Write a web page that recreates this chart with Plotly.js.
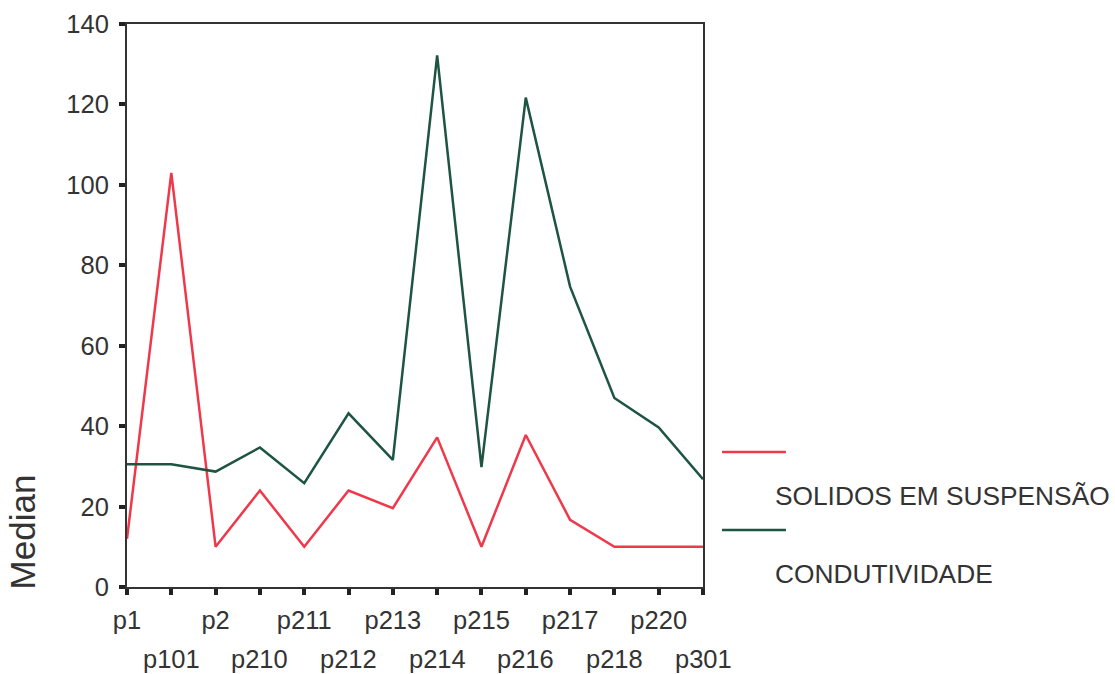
<!DOCTYPE html>
<html>
<head>
<meta charset="utf-8">
<script src="https://cdn.plot.ly/plotly-3.0.1.min.js"></script>
<style>html,body{margin:0;padding:0;background:#fff}#chart{width:1115px;height:674px}</style>
</head>
<body>
<div id="chart"></div>
<script>
const categories = ["p1","p101","p2","p210","p211","p212","p213","p214","p215","p216","p217","p218","p220","p301"];
const solidosSuspensao = [12, 103, 10, 24, 10, 24, 19.6, 37.2, 10, 37.8, 16.7, 10, 10, 10];
const condutividade = [30.5, 30.5, 28.7, 34.7, 25.8, 43.2, 31.6, 132.2, 29.8, 121.7, 74.7, 47, 39.7, 26.8];
const seriesNames = ["SOLIDOS EM SUSPENSÃO", "CONDUTIVIDADE"];
const seriesColors = ["#f0384b", "#1e5443"];
const yTicks = [0, 20, 40, 60, 80, 100, 120, 140];
const yTitle = "Median";

const font = "Liberation Sans, Arial, sans-serif";
const txtColor = "#333333";
const fs = 25.5;

const traces = [solidosSuspensao, condutividade].map((vals, i) => ({
  x: categories, y: vals, type: "scatter", mode: "lines",
  name: seriesNames[i], line: {color: seriesColors[i], width: 2.5}, showlegend: false
}));

const annotations = [];
// second row of staggered category labels
categories.forEach((c, i) => {
  if (i % 2 === 1) annotations.push({
    x: c, xref: "x", y: 0, yref: "paper", yshift: -72, text: c, showarrow: false,
    yanchor: "middle", xanchor: "center", font: {family: font, size: fs, color: txtColor}
  });
});
// y-axis title
annotations.push({
  x: 0, xref: "paper", xshift: -105, y: 0.097, yref: "paper", text: yTitle, textangle: -90,
  showarrow: false, xanchor: "center", yanchor: "middle", font: {family: font, size: 35, color: txtColor}
});
// manual legend (line on one row, label on next row)
const shapes = [];
const legY = [0.2398, 0.1012];
seriesNames.forEach((n, i) => {
  shapes.push({type: "line", xref: "paper", yref: "paper", x0: 1.033, x1: 1.144, y0: legY[i], y1: legY[i],
    line: {color: seriesColors[i], width: 2.5}});
  annotations.push({x: 1.1215, xref: "paper", y: legY[i] - 0.078, yref: "paper", text: n, showarrow: false,
    xanchor: "left", yanchor: "middle", font: {family: font, size: 26.3, color: txtColor}});
});

const layout = {
  width: 1115, height: 674,
  margin: {l: 127, r: 412, t: 24, b: 87},
  paper_bgcolor: "#ffffff", plot_bgcolor: "#ffffff",
  xaxis: {
    type: "category", range: [0, categories.length - 1],
    tickmode: "array", tickvals: categories,
    ticktext: categories.map((c, i) => i % 2 === 0 ? c : ""),
    ticks: "outside", ticklen: 6, tickwidth: 4, tickcolor: "#222",
    ticklabelstandoff: 3,
    showline: true, mirror: true, linecolor: "#333", linewidth: 2,
    showgrid: false, zeroline: false,
    tickfont: {family: font, size: fs, color: txtColor}
  },
  yaxis: {
    range: [0, 140], tickmode: "array", tickvals: yTicks, ticktext: yTicks.map(String),
    ticks: "outside", ticklen: 6, tickwidth: 4, tickcolor: "#222",
    ticklabelstandoff: 5,
    showline: true, mirror: true, linecolor: "#333", linewidth: 2,
    showgrid: false, zeroline: false,
    tickfont: {family: font, size: fs, color: txtColor}
  },
  annotations: annotations, shapes: shapes, showlegend: false
};

Plotly.newPlot("chart", traces, layout, {displayModeBar: false, staticPlot: true});
</script>
</body>
</html>
